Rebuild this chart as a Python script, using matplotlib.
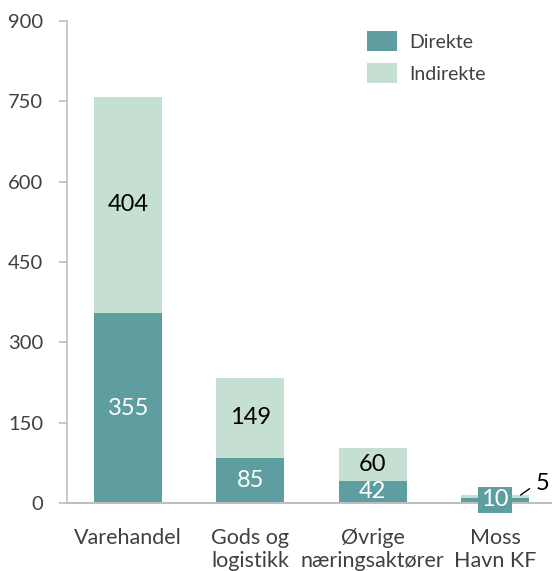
import matplotlib.pyplot as plt
import numpy as np

plt.rcParams['font.family'] = ['Lato', 'DejaVu Sans']

categories = ["Varehandel", "Gods og\nlogistikk", "Øvrige\nnæringsaktører", "Moss\nHavn KF"]
direkte = [355, 85, 42, 10]
indirekte = [404, 149, 60, 5]
yticks = [0, 150, 300, 450, 600, 750, 900]

col_dir = "#5F9EA0"
col_ind = "#C5DFD2"
grey = "#404040"

fig = plt.figure(figsize=(5.52, 5.71), dpi=100)
ax = fig.add_axes([0.1214, 0.119, 0.886, 0.844])

x = np.arange(len(categories))
w = 0.557
ax.bar(x, direkte, w, color=col_dir, label="Direkte")
ax.bar(x, indirekte, w, bottom=direkte, color=col_ind, label="Indirekte")

# labels inside the bars (first three categories)
for i in range(3):
    ax.text(x[i], direkte[i] / 2, str(direkte[i]), ha='center', va='center',
            color='white', fontsize=17)
    ax.text(x[i], direkte[i] + indirekte[i] / 2, str(indirekte[i]), ha='center',
            va='center', color='black', fontsize=17)

# small bar: boxed label and leader line
ax.text(x[3], 6, str(direkte[3]), ha='center', va='center', color='white', fontsize=17,
        bbox=dict(boxstyle='square,pad=0.12', facecolor=col_dir, edgecolor='none'))
ax.annotate(str(indirekte[3]), xy=(x[3] + 0.21, 15),
            xytext=(x[3] + 0.39, 37), ha='center', va='center', fontsize=17, color='black',
            arrowprops=dict(arrowstyle='-', color='black', lw=1, shrinkA=3, shrinkB=0,
                            relpos=(0.0, 0.45)))

ax.set_xlim(-0.5, 3.5)
ax.set_ylim(0, 900)
ax.set_yticks(yticks)
ax.set_yticklabels([str(t) for t in yticks], fontsize=14.5, color=grey)
ax.set_xticks(x)
ax.set_xticklabels(categories, fontsize=15.5, color=grey, linespacing=1.2)
ax.tick_params(axis='x', length=0, pad=18)
ax.tick_params(axis='y', length=6, width=1.2, color='#BFBFBF', pad=11)

for s in ['top', 'right']:
    ax.spines[s].set_visible(False)
ax.spines['left'].set_color('#BFBFBF')
ax.spines['left'].set_linewidth(1.2)
ax.spines['bottom'].set_color('#BFBFBF')
ax.spines['bottom'].set_linewidth(1.5)

ax.legend(loc='upper left', bbox_to_anchor=(0.578, 1.015), frameon=False, fontsize=14,
          handlelength=1.55, handleheight=1.2, labelspacing=0.62, handletextpad=0.6,
          labelcolor=grey)

fig.savefig("out.png", dpi=100)
